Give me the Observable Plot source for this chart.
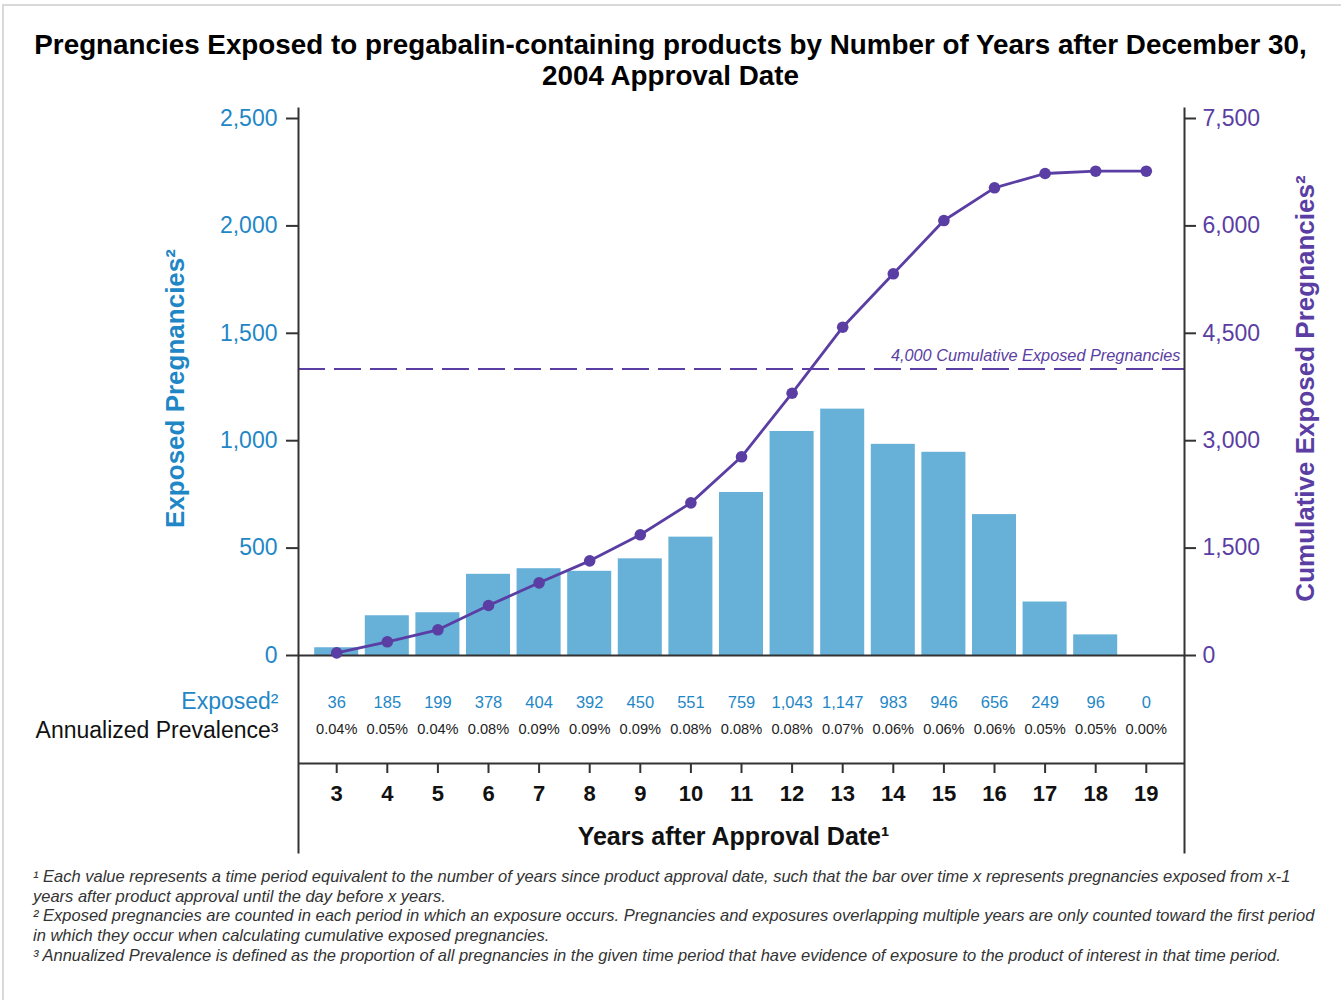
<!DOCTYPE html>
<html><head><meta charset="utf-8">
<script src="https://cdn.jsdelivr.net/npm/d3@7"></script>
<script src="https://cdn.jsdelivr.net/npm/@observablehq/plot@0.6"></script>
<style>
body{margin:0;background:#fff;font-family:"Liberation Sans",Arial,sans-serif;}
#wrap{position:relative;width:1341px;height:1000px;overflow:hidden;}
#border{position:absolute;left:2px;top:4px;width:1400px;height:1100px;border-left:2px solid #d9d9d9;border-top:2px solid #d9d9d9;}
#title{position:absolute;top:29px;left:0;width:1341px;text-align:center;font-weight:bold;font-size:27.8px;line-height:31px;color:#000;}
#chart{position:absolute;top:100px;left:0;}
#notes{position:absolute;top:867px;left:33px;font-style:italic;font-size:16.5px;line-height:19.7px;color:#333;white-space:nowrap}
</style></head>
<body>
<div id="wrap">
<div id="border"></div>
<div id="title">Pregnancies Exposed to pregabalin-containing products by Number of Years after December 30,<br>2004 Approval Date</div>
<div id="chart"></div>
<div id="notes">
<div>¹ Each value represents a time period equivalent to the number of years since product approval date, such that the bar over time x represents pregnancies exposed from x-1</div>
<div>years after product approval until the day before x years.</div>
<div>² Exposed pregnancies are counted in each period in which an exposure occurs. Pregnancies and exposures overlapping multiple years are only counted toward the first period</div>
<div>in which they occur when calculating cumulative exposed pregnancies.</div>
<div>³ Annualized Prevalence is defined as the proportion of all pregnancies in the given time period that have evidence of exposure to the product of interest in that time period.</div>
</div>
</div>
<script>
const years = [3,4,5,6,7,8,9,10,11,12,13,14,15,16,17,18,19];
const exposed = [36,185,199,378,404,392,450,551,759,1043,1147,983,946,656,249,96,0];
const cumulative = [36,191,359,698,1015,1322,1686,2132,2775,3663,4585,5331,6075,6532,6732,6764,6764];
const prevalence = ["0.04%","0.05%","0.04%","0.08%","0.09%","0.09%","0.09%","0.08%","0.08%","0.08%","0.07%","0.06%","0.06%","0.06%","0.05%","0.05%","0.00%"];
const leftTicks = [0,500,1000,1500,2000,2500];
const rightTicks = [0,1500,3000,4500,6000,7500];
const threshold = 4000;
const thresholdLabel = "4,000 Cumulative Exposed Pregnancies";
const leftLabel = "Exposed Pregnancies²";
const rightLabel = "Cumulative Exposed Pregnancies²";
const xLabel = "Years after Approval Date¹";
const rowLabels = ["Exposed²", "Annualized Prevalence³"];

const data = years.map((y,i)=>({year:y, exposed:exposed[i], cum:cumulative[i], prev:prevalence[i]}));

const blue = "#1f87c6", barColor = "#67b0d7", purple = "#5a3ea3", axisColor = "#333";
const ratio = 2500/7500; // right axis -> left axis units
const fmt = d3.format(",");

// geometry (svg pixel coords)
const W = 1341, H = 765, mT = 8, mB = 13, mL = 298, mR = 157;
const zeroPx = 555, topPx = 18; // value 0 and 2500
const ppu = (zeroPx - topPx)/2500;
const yDomain = [-((H - mB) - zeroPx)/ppu, (zeroPx - mT)/ppu];
const frameMidY = (mT + (H - mB))/2;
const labelDy = 388 - 100 - frameMidY;

const chart = Plot.plot({
  width: W, height: H,
  marginTop: mT, marginBottom: mB, marginLeft: mL, marginRight: mR,
  style: {fontFamily: '"Liberation Sans", Arial, sans-serif', background: "transparent"},
  x: {type: "band", domain: years, paddingInner: 0.13, paddingOuter: 0.32, round: false, axis: null},
  y: {domain: yDomain, axis: null},
  marks: [
    Plot.barY(data, {x: "year", y: "exposed", fill: barColor}),
    Plot.ruleY([threshold*ratio], {stroke: purple, strokeWidth: 2, strokeDasharray: "27,9"}),
    Plot.text([thresholdLabel], {y: [threshold*ratio], frameAnchor: "right", textAnchor: "end", dx: -4, dy: -13, fontStyle: "italic", fontSize: 16.3, fill: purple}),
    Plot.ruleY([0], {stroke: axisColor, strokeWidth: 2}),
    Plot.ruleY([0], {stroke: axisColor, strokeWidth: 2, dy: 108}),
    Plot.frame({anchor: "left", stroke: axisColor, strokeWidth: 2}),
    Plot.frame({anchor: "right", stroke: axisColor, strokeWidth: 2}),
    Plot.line(data, {x: "year", y: d => d.cum*ratio, stroke: purple, strokeWidth: 2.8}),
    Plot.dot(data, {x: "year", y: d => d.cum*ratio, fill: purple, r: 5.8}),
    Plot.axisY({anchor: "left", ticks: leftTicks, tickFormat: d => fmt(d), tickSize: 12, tickPadding: 9, fontSize: 23, fill: blue, stroke: axisColor, strokeWidth: 2, label: null}),
    Plot.axisY({anchor: "right", ticks: rightTicks.map(v => v*ratio), tickFormat: d => fmt(Math.round(d/ratio)), tickSize: 11, tickPadding: 7, fontSize: 23, fill: purple, stroke: axisColor, strokeWidth: 2, label: null}),
    Plot.text([leftLabel], {frameAnchor: "left", textAnchor: "middle", rotate: -90, dx: -123, dy: labelDy, fontSize: 26, fontWeight: "bold", fill: blue}),
    Plot.text([rightLabel], {frameAnchor: "right", textAnchor: "middle", rotate: -90, dx: 121, dy: labelDy, fontSize: 26, fontWeight: "bold", fill: purple}),
    Plot.text(data, {x: "year", text: d => fmt(d.exposed), frameAnchor: "bottom", dy: -145, fontSize: 16.5, fill: blue}),
    Plot.text(data, {x: "year", text: "prev", frameAnchor: "bottom", dy: -119, fontSize: 14.6, fill: "#222"}),
    Plot.text([rowLabels[0]], {frameAnchor: "bottom-left", textAnchor: "end", dx: -20, dy: -144, fontSize: 23, fill: blue}),
    Plot.text([rowLabels[1]], {frameAnchor: "bottom-left", textAnchor: "end", dx: -20, dy: -115, fontSize: 23, fill: "#111"}),
    Plot.axisX({anchor: "bottom", dy: -89, tickSize: 10, tickPadding: 12, fontSize: 22, fontWeight: "bold", stroke: axisColor, strokeWidth: 2, fill: "#111", label: null}),
    Plot.text([xLabel], {frameAnchor: "bottom", dx: -8, dy: -8, fontSize: 25, fontWeight: "bold", fill: "#111"})
  ]
});
document.getElementById("chart").appendChild(chart);
</script>
</body></html>
